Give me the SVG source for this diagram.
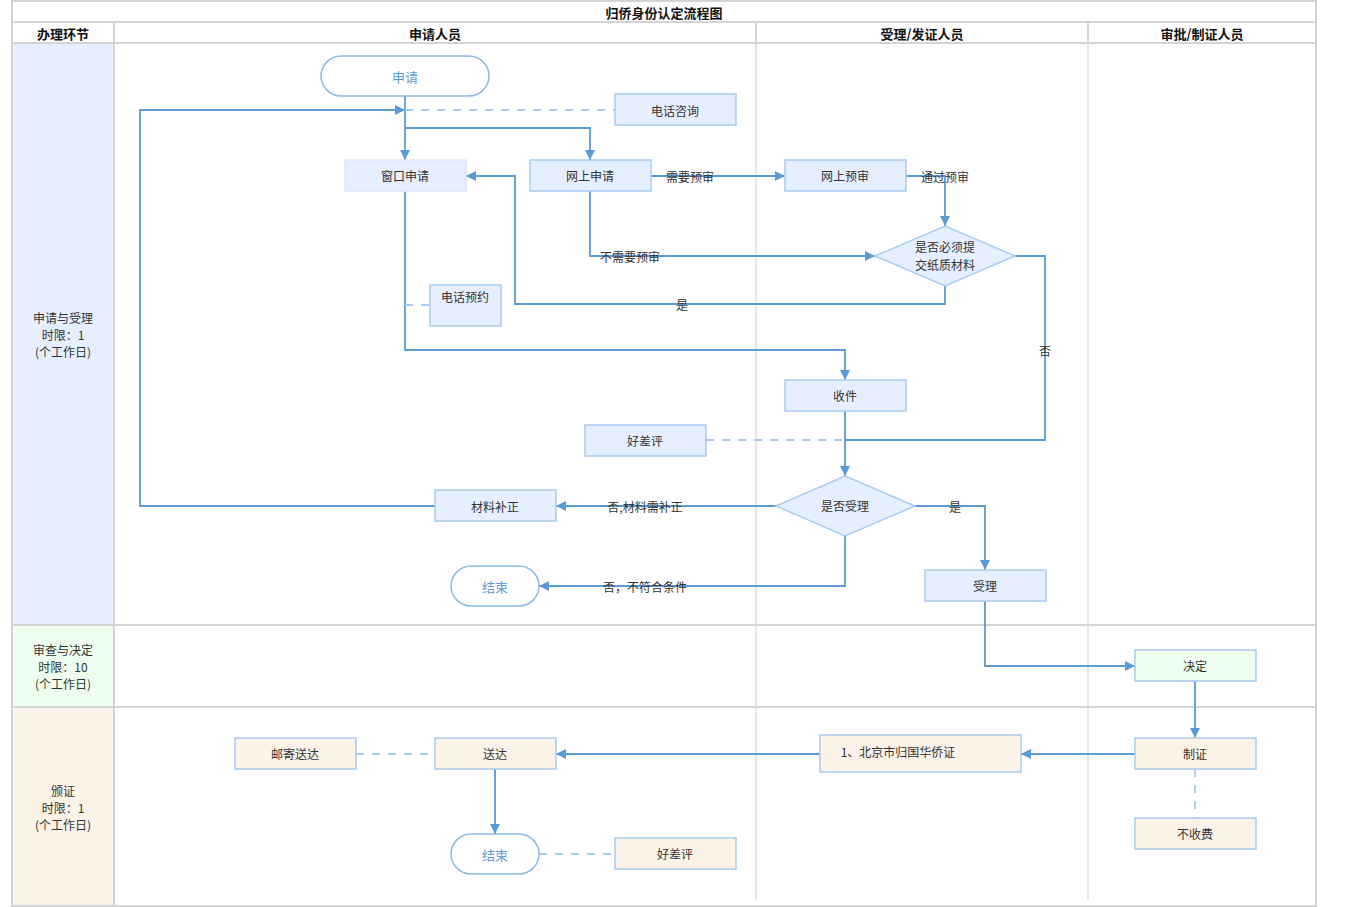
<svg xmlns="http://www.w3.org/2000/svg" width="1350" height="907" viewBox="0 0 1350 907">
<defs>
<marker id="arr" viewBox="0 0 10 10" refX="10" refY="5" markerWidth="10" markerHeight="10" markerUnits="userSpaceOnUse" orient="auto">
<path d="M0,0 L10,5 L0,10 z" fill="#5b9bd5"/>
</marker>
<style>
text{font-family:"Noto Sans CJK SC","Liberation Sans",sans-serif;font-size:12px;fill:#333;text-anchor:middle;dominant-baseline:central}
.hd{font-weight:bold;font-size:13px;fill:#111}
.grid{stroke:#d4d4d4;stroke-width:2;fill:none}
.sub{stroke:#e6e6e6;stroke-width:2;fill:none}
.b{fill:#e5efff;stroke:#a9cbf0;stroke-width:1.5}
.bn{fill:#e5efff;stroke:#e0e8f3;stroke-width:1.5}
.g{fill:#eeffee;stroke:#a9cbf0;stroke-width:1.5}
.o{fill:#fdf2e7;stroke:#a9cbf0;stroke-width:1.5}
.t{fill:#fff;stroke:#8db9e6;stroke-width:1.5}
.tt{fill:#5b9bd5;font-size:13px}
.c{stroke:#5b9bd5;stroke-width:1.8;fill:none}
.ca{stroke:#5b9bd5;stroke-width:1.8;fill:none;marker-end:url(#arr)}
.d{stroke:#a9cbf0;stroke-width:1.8;fill:none;stroke-dasharray:8,8}
</style>
</defs>
<rect width="1350" height="907" fill="#fff"/>
<g id="swimlanes">
<rect x="13" y="44" width="101" height="580" fill="#e5efff"/>
<rect x="13" y="626" width="101" height="80" fill="#eeffee"/>
<rect x="13" y="708" width="101" height="197" fill="#fdf2e7"/>
<line class="sub" x1="756" y1="43" x2="756" y2="900"/>
<line class="sub" x1="1088" y1="43" x2="1088" y2="900"/>
<rect class="grid" x="12" y="1" width="1304" height="905"/>
<line class="grid" x1="12" y1="22" x2="1316" y2="22"/>
<line class="grid" x1="12" y1="43" x2="1316" y2="43"/>
<line class="grid" x1="114" y1="22" x2="114" y2="906"/>
<line class="grid" x1="756" y1="22" x2="756" y2="43"/>
<line class="grid" x1="1088" y1="22" x2="1088" y2="43"/>
<line class="grid" x1="12" y1="625" x2="1316" y2="625"/>
<line class="grid" x1="12" y1="707" x2="1316" y2="707"/>
<text class="hd" x="664" y="12">归侨身份认定流程图</text>
<text class="hd" x="63" y="33">办理环节</text>
<text class="hd" x="435" y="33">申请人员</text>
<text class="hd" x="922" y="33">受理/发证人员</text>
<text class="hd" x="1202" y="33">审批/制证人员</text>
<text x="63" y="317">申请与受理</text>
<text x="63" y="334">时限：1</text>
<text x="63" y="351">(个工作日)</text>
<text x="63" y="649">审查与决定</text>
<text x="63" y="666">时限：10</text>
<text x="63" y="683">(个工作日)</text>
<text x="63" y="790">颁证</text>
<text x="63" y="807">时限：1</text>
<text x="63" y="824">(个工作日)</text>
</g>
<g id="connectors">
<path class="ca" d="M405,96 V160"/>
<path class="ca" d="M405,128 H590 V160"/>
<path class="d" d="M405,110 H615"/>
<path class="ca" d="M435,506 H140 V110 H405"/>
<path class="ca" d="M651,176 H785"/>
<path class="ca" d="M906,176 H945 V226"/>
<path class="ca" d="M590,191 V256 H875"/>
<path class="ca" d="M945,286 V304 H515 V176 H466"/>
<path class="c" d="M1015,256 H1045 V440 H845"/>
<path class="ca" d="M405,191 V350 H845 V380"/>
<path class="d" d="M405,305 H430"/>
<path class="ca" d="M845,411 V476"/>
<path class="d" d="M706,440 H845"/>
<path class="ca" d="M776,506 H556"/>
<path class="ca" d="M845,536 V586 H539"/>
<path class="ca" d="M915,506 H985 V570"/>
<path class="ca" d="M985,601 V666 H1135"/>
<path class="ca" d="M1195,681 V738"/>
<path class="ca" d="M1135,754 H1021"/>
<path class="ca" d="M820,754 H556"/>
<path class="ca" d="M495,769 V834"/>
<path class="d" d="M356,754 H435"/>
<path class="d" d="M539,854 H615"/>
<path class="d" d="M1195,769 V818"/>
<text x="690" y="176">需要预审</text>
<text x="945" y="176">通过预审</text>
<text x="630" y="256">不需要预审</text>
<text x="682" y="304">是</text>
<text x="1045" y="350">否</text>
<text x="645" y="506">否,材料需补正</text>
<text x="645" y="586">否，不符合条件</text>
<text x="955" y="506">是</text>
</g>
<g id="n-apply"><rect class="t" x="321" y="56" width="168" height="40" rx="20"/><text class="tt" x="405" y="76">申请</text></g>
<g id="n-phone-consult"><rect class="b" x="615" y="94" width="121" height="31"/><text x="675" y="110">电话咨询</text></g>
<g id="n-window"><rect class="bn" x="345" y="160" width="121" height="31"/><text x="405" y="175">窗口申请</text></g>
<g id="n-online"><rect class="b" x="530" y="160" width="121" height="31"/><text x="590" y="175">网上申请</text></g>
<g id="n-precheck"><rect class="b" x="785" y="160" width="121" height="31"/><text x="845" y="175">网上预审</text></g>
<g id="n-paper"><polygon class="b" points="945,226 1015,256 945,286 875,256"/><text x="945" y="246">是否必须提</text><text x="945" y="264">交纸质材料</text></g>
<g id="n-phone-book"><rect class="b" x="430" y="285" width="71" height="41"/><text x="465" y="296">电话预约</text></g>
<g id="n-receive"><rect class="b" x="785" y="380" width="121" height="31"/><text x="845" y="395">收件</text></g>
<g id="n-review1"><rect class="b" x="585" y="425" width="121" height="31"/><text x="645" y="440">好差评</text></g>
<g id="n-accept-q"><polygon class="b" points="845,476 915,506 845,536 776,506"/><text x="845" y="505">是否受理</text></g>
<g id="n-supplement"><rect class="b" x="435" y="490" width="121" height="31"/><text x="495" y="506">材料补正</text></g>
<g id="n-end1"><rect class="t" x="451" y="566" width="88" height="40" rx="20"/><text class="tt" x="495" y="586">结束</text></g>
<g id="n-accept"><rect class="b" x="925" y="570" width="121" height="31"/><text x="985" y="585">受理</text></g>
<g id="n-decide"><rect class="g" x="1135" y="650" width="121" height="31"/><text x="1195" y="665">决定</text></g>
<g id="n-make"><rect class="o" x="1135" y="738" width="121" height="31"/><text x="1195" y="753">制证</text></g>
<g id="n-cert"><rect class="o" x="820" y="735" width="201" height="37"/><text x="898" y="751">1、北京市归国华侨证</text></g>
<g id="n-nofee"><rect class="o" x="1135" y="818" width="121" height="31"/><text x="1195" y="833">不收费</text></g>
<g id="n-mail"><rect class="o" x="235" y="738" width="121" height="31"/><text x="295" y="753">邮寄送达</text></g>
<g id="n-deliver"><rect class="o" x="435" y="738" width="121" height="31"/><text x="495" y="753">送达</text></g>
<g id="n-end2"><rect class="t" x="451" y="834" width="88" height="40" rx="20"/><text class="tt" x="495" y="854">结束</text></g>
<g id="n-review2"><rect class="o" x="615" y="838" width="121" height="31"/><text x="675" y="853">好差评</text></g>
</svg>
